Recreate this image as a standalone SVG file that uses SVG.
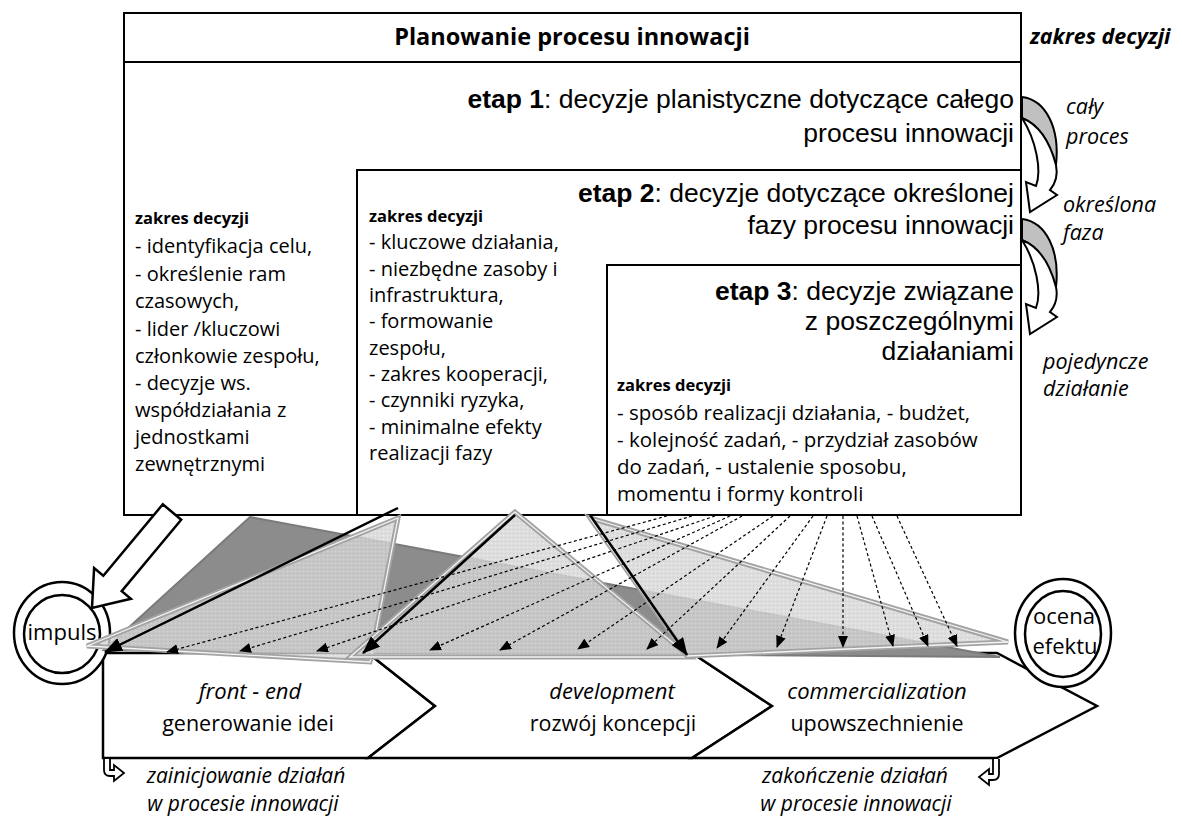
<svg xmlns="http://www.w3.org/2000/svg" xmlns:xlink="http://www.w3.org/1999/xlink" width="1182" height="818" viewBox="0 0 1182 818">
<defs>
<style>
.box{fill:#fff;stroke:#000;stroke-width:2}
.t{font-family:"Open Sans","Liberation Sans",sans-serif;fill:#000}
.b{font-weight:bold}
.i{font-style:italic}
.col{font-size:20px}
.zk{font-size:16.5px;font-weight:bold}
.et{font-family:"Liberation Sans",Arial,sans-serif;font-size:26.5px}
.s3{font-size:20.5px}
.rl{font-size:21.5px;font-style:italic}
.chev{fill:#fff;stroke:#000;stroke-width:2.5;stroke-linejoin:miter}
.ring{fill:#fff;stroke:#000;stroke-width:2.5}
.dash{fill:none;stroke:#000;stroke-width:1.2;stroke-dasharray:3 2.5;marker-end:url(#ah)}
.solid{fill:none;stroke:#000;stroke-width:2.5;marker-end:url(#ahb)}
.lt{fill:url(#dots);opacity:0.8}
.lto{fill:none;stroke:#a3a3a3;stroke-width:5;stroke-linejoin:miter}
.ltw{fill:none;stroke:#f4f4f4;stroke-width:1.3}
</style>
<pattern id="dots" width="4" height="4" patternUnits="userSpaceOnUse">
<rect width="4" height="4" fill="#d6d6d6"/>
<rect x="1" y="1" width="1" height="1" fill="#bdbdbd"/>
<rect x="3" y="3" width="1" height="1" fill="#e8e8e8"/>
</pattern>
<marker id="ah" markerUnits="userSpaceOnUse" markerWidth="12" markerHeight="10" refX="11" refY="5" orient="auto">
<path d="M0,0 L12,5 L0,10 Z" fill="#000"/>
</marker>
<marker id="ahb" markerUnits="userSpaceOnUse" markerWidth="18" markerHeight="14" refX="17" refY="7" orient="auto">
<path d="M0,0 L18,7 L0,14 Z" fill="#000"/>
</marker>
<g id="curv">
<path d="M1022,97 C1046,100 1060,128 1056,165 C1048,140 1038,125 1022,118 Z" fill="#c0c0c0" stroke="#000" stroke-width="2"/>
<path d="M1022,118 C1040,125 1050,142 1056,165 C1058,175 1055,184 1050,190 L1057,195 L1030,212 L1026,182 L1036,186 C1042,170 1036,140 1022,118 Z" fill="#fff" stroke="#000" stroke-width="2" stroke-linejoin="miter"/>
</g>
</defs>

<rect width="1182" height="818" fill="#fff"/>

<g id="stage1">
<rect class="box" x="124" y="62" width="897" height="453"/>
<text class="t et" x="1014" y="108" text-anchor="end"><tspan class="b">etap 1</tspan>: decyzje planistyczne dotyczące całego</text>
<text class="t et" x="1014" y="142" text-anchor="end">procesu innowacji</text>
<text class="t zk" x="135" y="224">zakres decyzji</text>
<text class="t col" x="135" y="253">- identyfikacja celu,</text>
<text class="t col" x="135" y="281">- określenie ram</text>
<text class="t col" x="135" y="308">czasowych,</text>
<text class="t col" x="135" y="336">- lider /kluczowi</text>
<text class="t col" x="135" y="363">członkowie zespołu,</text>
<text class="t col" x="135" y="390">- decyzje ws.</text>
<text class="t col" x="135" y="417">współdziałania z</text>
<text class="t col" x="135" y="444">jednostkami</text>
<text class="t col" x="135" y="471">zewnętrznymi</text>
</g>

<g id="title">
<rect class="box" x="124" y="13" width="897" height="49"/>
<text class="t b" x="572" y="45" font-size="23.5" text-anchor="middle">Planowanie procesu innowacji</text>
</g>

<g id="stage2">
<rect class="box" x="357" y="170" width="664" height="345"/>
<text class="t et" x="1014" y="202" text-anchor="end"><tspan class="b">etap 2</tspan>: decyzje dotyczące określonej</text>
<text class="t et" x="1014" y="234" text-anchor="end">fazy procesu innowacji</text>
<text class="t zk" x="369" y="222">zakres decyzji</text>
<text class="t col" x="369" y="249">- kluczowe działania,</text>
<text class="t col" x="369" y="276">- niezbędne zasoby i</text>
<text class="t col" x="369" y="302">infrastruktura,</text>
<text class="t col" x="369" y="328">- formowanie</text>
<text class="t col" x="369" y="355">zespołu,</text>
<text class="t col" x="369" y="381">- zakres kooperacji,</text>
<text class="t col" x="369" y="407">- czynniki ryzyka,</text>
<text class="t col" x="369" y="434">- minimalne efekty</text>
<text class="t col" x="369" y="460">realizacji fazy</text>
</g>

<g id="stage3">
<rect class="box" x="607" y="265" width="414" height="250"/>
<text class="t et" x="1014" y="300" text-anchor="end"><tspan class="b">etap 3</tspan>: decyzje związane</text>
<text class="t et" x="1014" y="330" text-anchor="end">z poszczególnymi</text>
<text class="t et" x="1014" y="360" text-anchor="end">działaniami</text>
<text class="t zk" x="617" y="391">zakres decyzji</text>
<text class="t s3" x="617" y="420">- sposób realizacji działania, - budżet,</text>
<text class="t s3" x="617" y="447">- kolejność zadań, - przydział zasobów</text>
<text class="t s3" x="617" y="474">do zadań, - ustalenie sposobu,</text>
<text class="t s3" x="617" y="501">momentu i formy kontroli</text>
</g>

<g id="scope">
<text class="t b i" x="1030" y="44" font-size="21.5">zakres decyzji</text>
<use xlink:href="#curv" href="#curv"/>
<use xlink:href="#curv" href="#curv" transform="translate(0,122)"/>
<text class="t rl" x="1066" y="114">cały</text>
<text class="t rl" x="1066" y="144">proces</text>
<text class="t rl" x="1063" y="212">określona</text>
<text class="t rl" x="1063" y="240">faza</text>
<text class="t rl" x="1043" y="369">pojedyncze</text>
<text class="t rl" x="1043" y="396">działanie</text>
</g>

<g id="phase1">
<path class="chev" d="M103,653 L368,653 L435,706 L368,758 L103,758 Z"/>
<text class="t i" font-size="22" x="250" y="699" text-anchor="middle">front - end</text>
<text class="t" font-size="21.5" x="248" y="731" text-anchor="middle">generowanie idei</text>
</g>
<g id="phase2">
<path class="chev" d="M368,653 L692,653 L772,706 L692,758 L368,758 L435,706 Z"/>
<text class="t i" font-size="22" x="612" y="699" text-anchor="middle">development</text>
<text class="t" font-size="21.5" x="613" y="731" text-anchor="middle">rozwój koncepcji</text>
</g>
<g id="phase3">
<path class="chev" d="M692,653 L997,653 L1097,706 L997,758 L692,758 L772,706 Z"/>
<text class="t i" font-size="22" x="877" y="699" text-anchor="middle">commercialization</text>
<text class="t" font-size="21.5" x="877" y="731" text-anchor="middle">upowszechnienie</text>
</g>

<g id="impuls">
<ellipse class="ring" cx="62" cy="633" rx="48" ry="51"/>
<ellipse class="ring" cx="62" cy="634" rx="38" ry="39"/>
<text class="t" font-size="22" x="62" y="640" text-anchor="middle">impuls</text>
</g>
<g id="ocena">
<ellipse class="ring" cx="1063" cy="633" rx="48" ry="54"/>
<ellipse class="ring" cx="1063" cy="634" rx="38" ry="43"/>
<text class="t" font-size="22" x="1064" y="624" text-anchor="middle">ocena</text>
<text class="t" font-size="22" x="1065" y="654" text-anchor="middle">efektu</text>
</g>

<g id="connectors">
<polygon points="250,517 104,650 1000,657" fill="#8c8c8c" stroke="#7a7a7a" stroke-width="2"/>
<polygon class="lt" points="87,646 398,518 370,662"/>
<polygon class="lto" points="87,646 398,518 370,662"/>
<polygon class="ltw" points="87,646 398,518 370,662"/>
<polygon class="lt" points="515,512 350,657 690,657"/>
<polygon class="lto" points="515,512 350,657 690,657"/>
<polygon class="ltw" points="515,512 350,657 690,657"/>
<polygon class="lt" points="590,518 1008,642 687,656"/>
<polygon class="lto" points="590,518 1008,642 687,656"/>
<polygon class="ltw" points="590,518 1008,642 687,656"/>

<line class="solid" x1="398" y1="508" x2="105" y2="652"/>
<line class="solid" x1="515" y1="515" x2="363" y2="653"/>
<line class="solid" x1="590" y1="515" x2="687" y2="655"/>

<line class="dash" x1="667" y1="516" x2="167" y2="652"/>
<line class="dash" x1="692" y1="516" x2="240" y2="651"/>
<line class="dash" x1="715" y1="516" x2="317" y2="651"/>
<line class="dash" x1="730" y1="516" x2="430" y2="650"/>
<line class="dash" x1="742" y1="516" x2="500" y2="650"/>
<line class="dash" x1="773" y1="516" x2="578" y2="649"/>
<line class="dash" x1="790" y1="516" x2="647" y2="649"/>
<line class="dash" x1="813" y1="516" x2="717" y2="648"/>
<line class="dash" x1="827" y1="516" x2="777" y2="647"/>
<line class="dash" x1="843" y1="516" x2="843" y2="647"/>
<line class="dash" x1="857" y1="516" x2="893" y2="646"/>
<line class="dash" x1="872" y1="516" x2="928" y2="646"/>
<line class="dash" x1="897" y1="516" x2="957" y2="646"/>

<polygon points="162.8,504.3 103.3,575.7 94.1,568 92,608 130.9,598.8 121.7,591.1 181.2,519.7" fill="#fff" stroke="#000" stroke-width="2.5" stroke-linejoin="miter"/>

<path d="M104,759 L104,770 Q104,776 110,776 L114,776 L114,781 L124,773 L114,765 L114,770 L110,770 Q110,770 110,766 L110,759" fill="#fff" stroke="#000" stroke-width="1.8"/>
<path d="M999,759 L999,774 Q999,780 993,780 L989,780 L989,785 L979,777 L989,769 L989,774 L993,774 L993,759" fill="#fff" stroke="#000" stroke-width="1.8"/>
</g>

<g id="labels">
<text class="t i" font-size="21" x="246" y="783" text-anchor="middle">zainicjowanie działań</text>
<text class="t i" font-size="21" x="243" y="811" text-anchor="middle">w procesie innowacji</text>
<text class="t i" font-size="21" x="855" y="783" text-anchor="middle">zakończenie działań</text>
<text class="t i" font-size="21" x="856" y="811" text-anchor="middle">w procesie innowacji</text>
</g>
</svg>
